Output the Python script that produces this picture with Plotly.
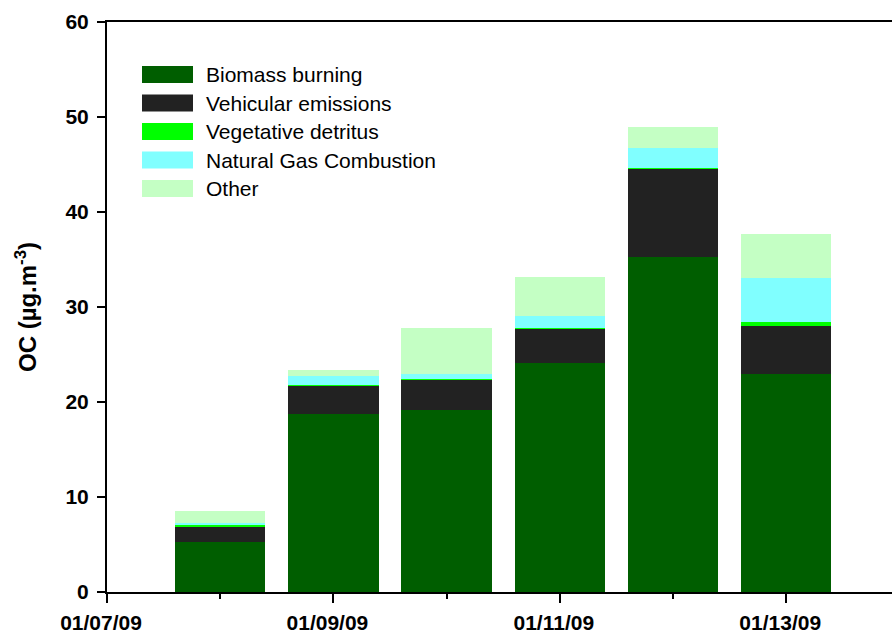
import datetime as dt
import plotly.graph_objects as go

# Sampling days (each bar is one day of OC source apportionment)
dates = ["2009-01-08", "2009-01-09", "2009-01-10", "2009-01-11", "2009-01-12", "2009-01-13"]

# Source contributions, µg/m3
biomass_burning = [5.30, 18.77, 19.19, 24.13, 35.30, 22.98]
vehicular_emissions = [1.57, 3.00, 3.20, 3.59, 9.31, 5.05]
vegetative_detritus = [0.18, 0.05, 0.06, 0.10, 0.05, 0.42]
natural_gas = [0.25, 0.95, 0.53, 1.26, 2.11, 4.63]
other = [1.26, 0.63, 4.84, 4.11, 2.21, 4.64]

source_names = ["Biomass burning", "Vehicular emissions", "Vegetative detritus",
                "Natural Gas Combustion", "Other"]
source_colors = ["#005E00", "#222222", "#00FF00", "#80FFFF", "#C4FFC4"]
source_values = [biomass_burning, vehicular_emissions, vegetative_detritus, natural_gas, other]

y_ticks = [0, 10, 20, 30, 40, 50, 60]

FONT = "Arial, Liberation Sans, sans-serif"
DAY_MS = 86400000
W, H = 892, 635
L, R, T, B = 107, 0, 22, 43
plot_w = W - L - R
plot_h = H - T - B

fig = go.Figure()
for name, color, vals in zip(source_names, source_colors, source_values):
    fig.add_trace(go.Bar(
        x=dates, y=vals, name=name,
        marker=dict(color=color, line=dict(width=0)),
        width=0.8 * DAY_MS,
        showlegend=False,
    ))

# Hand-built legend: large swatches with labels
shapes = []
annotations = []
sw_x0, sw_x1, sw_h = 142, 193, 17
row0, row_step = 74.5, 28.5
for i, (name, color) in enumerate(zip(source_names, source_colors)):
    cy = row0 + i * row_step
    shapes.append(dict(
        type="rect", xref="paper", yref="paper", layer="above",
        x0=(sw_x0 - L) / plot_w, x1=(sw_x1 - L) / plot_w,
        y0=(H - B - (cy + sw_h / 2)) / plot_h, y1=(H - B - (cy - sw_h / 2)) / plot_h,
        fillcolor=color, line=dict(width=0),
    ))
    annotations.append(dict(
        xref="paper", yref="paper", x=(204 - L) / plot_w, y=(H - B - cy) / plot_h,
        text=name, showarrow=False, xanchor="left", yanchor="middle",
        font=dict(family=FONT, size=21, color="black"),
    ))

# Date axis runs from 01/07/09 to just short of 01/14/09
x_end = dt.datetime(2009, 1, 7) + dt.timedelta(days=(W - L) / 113.2)

fig.update_layout(
    width=W, height=H,
    margin=dict(l=L, r=R, t=T, b=B),
    barmode="stack",
    plot_bgcolor="white", paper_bgcolor="white",
    font=dict(family=FONT, color="black"),
    shapes=shapes, annotations=annotations,
    xaxis=dict(
        type="date", automargin=False,
        range=["2009-01-07", x_end.strftime("%Y-%m-%d %H:%M:%S")],
        tick0="2009-01-07", dtick=2 * DAY_MS,
        tickformat="%m/%d/%y",
        ticks="outside", ticklen=9, tickwidth=1.5, tickcolor="black",
        minor=dict(dtick=DAY_MS, tick0="2009-01-07", ticks="outside", ticklen=5,
                   tickwidth=1.5, tickcolor="black", showgrid=False),
        showline=True, linecolor="black", linewidth=2, mirror=True,
        showgrid=False, zeroline=False,
        ticklabelshift=-6, ticklabelstandoff=2,
        tickfont=dict(size=21, family=FONT, weight="bold"),
    ),
    yaxis=dict(
        range=[0, 60], tickvals=y_ticks, automargin=False,
        ticks="outside", ticklen=8, tickwidth=1.5, tickcolor="black",
        showline=True, linecolor="black", linewidth=2,
        showgrid=False, zeroline=False,
        ticklabelstandoff=4,
        tickfont=dict(size=21, family=FONT, weight="bold"),
        title=dict(text="OC (µg.m<sup>-3</sup>)",
                   font=dict(size=24, family=FONT, weight="bold"), standoff=22),
    ),
)

fig.write_html("out.html")
